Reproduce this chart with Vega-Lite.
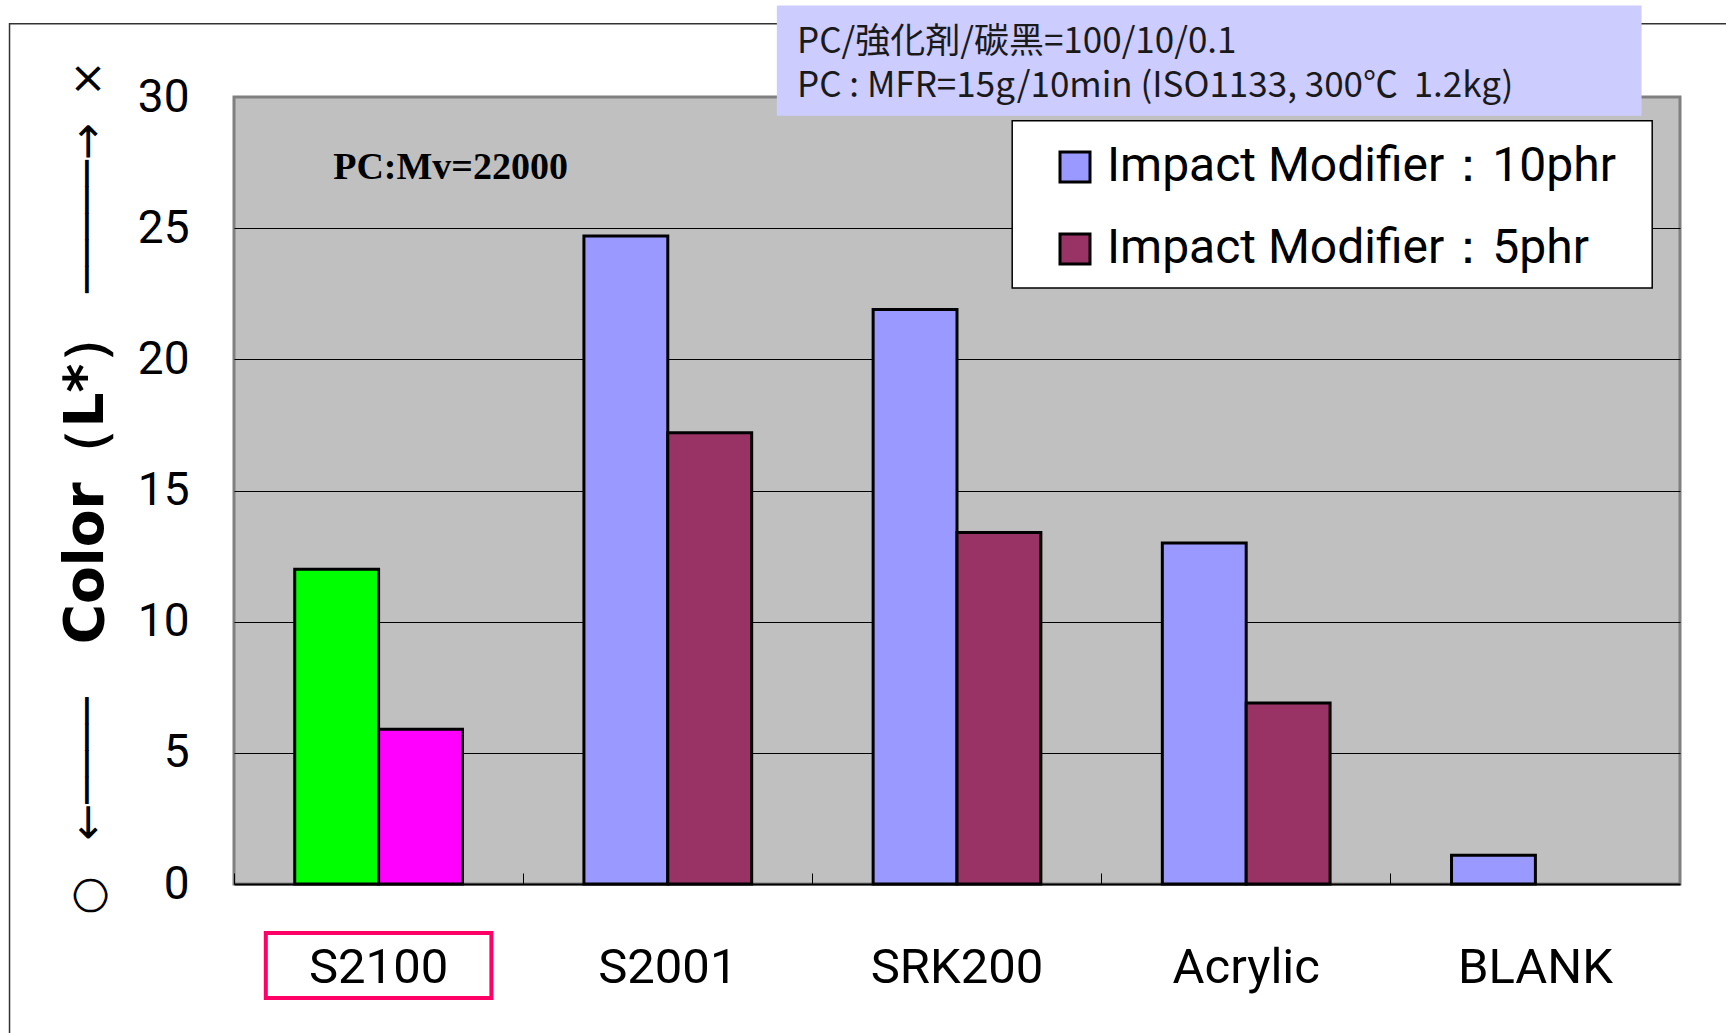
{
  "$schema": "https://vega.github.io/schema/vega-lite/v6.json",
  "width": 1446,
  "height": 787,
  "autosize": {"type": "none"},
  "padding": {"left": 234, "top": 97, "right": 46, "bottom": 149},
  "background": "white",
  "title": {
    "text": "Color（L*）",
    "orient": "left",
    "anchor": "middle",
    "frame": "group",
    "font": "DejaVu Sans",
    "fontWeight": "bold",
    "fontSize": 55,
    "color": "black",
    "offset": 0,
    "dy": 106,
    "dx": 14
  },
  "config": {
    "view": {"fill": "#c0c0c0", "stroke": "#808080", "strokeWidth": 3}
  },
  "layer": [
    {
      "data": {
        "values": [
          {"category": "S2100", "group": "Impact Modifier：10phr", "value": 12.0},
          {"category": "S2100", "group": "Impact Modifier：5phr", "value": 5.9},
          {"category": "S2001", "group": "Impact Modifier：10phr", "value": 24.7},
          {"category": "S2001", "group": "Impact Modifier：5phr", "value": 17.2},
          {"category": "SRK200", "group": "Impact Modifier：10phr", "value": 21.9},
          {"category": "SRK200", "group": "Impact Modifier：5phr", "value": 13.4},
          {"category": "Acrylic", "group": "Impact Modifier：10phr", "value": 13.0},
          {"category": "Acrylic", "group": "Impact Modifier：5phr", "value": 6.9},
          {"category": "BLANK", "group": "Impact Modifier：10phr", "value": 1.1}
        ]
      },
      "mark": {"type": "bar", "stroke": "black", "strokeWidth": 3},
      "encoding": {
        "x": {
          "field": "category",
          "type": "nominal",
          "title": null,
          "scale": {"domain": ["S2100", "S2001", "SRK200", "Acrylic", "BLANK"], "paddingInner": 0, "paddingOuter": 0},
          "axis": {
            "labelFont": "Roboto",
            "labelFontSize": 49,
            "labelColor": "black",
            "labelAngle": 0,
            "labelLimit": 0,
            "labelPadding": 70,
            "ticks": true,
            "tickSize": -11,
            "tickColor": "black",
            "tickWidth": 1,
            "bandPosition": 0,
            "domainColor": "black",
            "domainWidth": 2,
            "grid": false
          }
        },
        "xOffset": {
          "field": "group",
          "type": "nominal",
          "scale": {"domain": ["Impact Modifier：10phr", "Impact Modifier：5phr"], "paddingInner": 0, "paddingOuter": 0.724}
        },
        "y": {
          "field": "value",
          "type": "quantitative",
          "title": "\u25cb\u2002\u00a0\u2190\u2500\u2500\u2500\u2500\u2003\u2003\u2003\u2003\u2003\u2003\u2003\u2003\u2003\u2009\u2500\u2500\u2500\u2500\u2500\u2192\u2002\u200a\u00d7",
          "scale": {"domain": [0, 30], "nice": false, "zero": true},
          "axis": {
            "values": [0, 5, 10, 15, 20, 25, 30],
            "labelFont": "Roboto",
            "labelFontSize": 46,
            "labelColor": "black",
            "labelPadding": 45,
            "ticks": false,
            "domain": false,
            "grid": true,
            "gridColor": "black",
            "gridWidth": 1,
            "gridOpacity": {"condition": {"test": "datum.value === 30 || datum.value === 0", "value": 0}, "value": 1},
            "titleFont": "DejaVu Sans",
            "titleFontSize": 44,
            "titleFontWeight": "normal",
            "titleColor": "black",
            "titleAngle": 270,
            "titleX": -146,
            "titleY": 390,
            "titleAlign": "center",
            "titleBaseline": "middle"
          }
        },
        "color": {
          "condition": [
            {"test": "datum.category === 'S2100' && datum.group === 'Impact Modifier：10phr'", "value": "#00ff00"},
            {"test": "datum.category === 'S2100' && datum.group === 'Impact Modifier：5phr'", "value": "#ff00ff"}
          ],
          "field": "group",
          "type": "nominal",
          "scale": {"domain": ["Impact Modifier：10phr", "Impact Modifier：5phr"], "range": ["#9999ff", "#993366"]},
          "legend": {
            "title": null,
            "orient": "none",
            "legendX": 817,
            "legendY": 46,
            "direction": "vertical",
            "padding": 0,
            "symbolType": "square",
            "symbolSize": 900,
            "symbolStrokeColor": "black",
            "symbolStrokeWidth": 3,
            "symbolOpacity": 1,
            "labelFont": "Roboto",
            "labelFontSize": 48,
            "labelColor": "black",
            "labelOffset": 8,
            "rowPadding": 34,
            "labelLimit": 0
          }
        }
      }
    },
    {
      "data": {"values": [{"category": "S2100", "value": 32.79, "value2": -9}]},
      "mark": {"type": "bar", "fill": "white", "fillOpacity": 0, "stroke": "#333333", "strokeWidth": 1.5, "width": {"band": 6.19}, "xOffset": 526},
      "encoding": {
        "x": {"field": "category", "type": "nominal", "title": null, "scale": {"domain": ["S2100", "S2001", "SRK200", "Acrylic", "BLANK"], "paddingInner": 0, "paddingOuter": 0}},
        "y": {"field": "value", "type": "quantitative", "title": "\u25cb\u2002\u00a0\u2190\u2500\u2500\u2500\u2500\u2003\u2003\u2003\u2003\u2003\u2003\u2003\u2003\u2003\u2009\u2500\u2500\u2500\u2500\u2500\u2192\u2002\u200a\u00d7", "scale": {"domain": [0, 30], "nice": false, "zero": true}},
        "y2": {"field": "value2"}
      }
    },
    {
      "data": {"values": [{"category": "Acrylic", "value": 29.09, "value2": 22.72}]},
      "mark": {"type": "bar", "fill": "white", "stroke": "black", "strokeWidth": 1.5, "width": {"band": 2.213}, "xOffset": 86},
      "encoding": {
        "x": {"field": "category", "type": "nominal", "title": null, "scale": {"domain": ["S2100", "S2001", "SRK200", "Acrylic", "BLANK"], "paddingInner": 0, "paddingOuter": 0}},
        "y": {"field": "value", "type": "quantitative", "title": "\u25cb\u2002\u00a0\u2190\u2500\u2500\u2500\u2500\u2003\u2003\u2003\u2003\u2003\u2003\u2003\u2003\u2003\u2009\u2500\u2500\u2500\u2500\u2500\u2192\u2002\u200a\u00d7", "scale": {"domain": [0, 30], "nice": false, "zero": true}},
        "y2": {"field": "value2"}
      }
    },
    {
      "data": {"values": [{"category": "Acrylic", "value": 33.49, "value2": 29.29}]},
      "mark": {"type": "bar", "fill": "#ccccff", "width": {"band": 2.99}, "xOffset": -37},
      "encoding": {
        "x": {"field": "category", "type": "nominal", "title": null, "scale": {"domain": ["S2100", "S2001", "SRK200", "Acrylic", "BLANK"], "paddingInner": 0, "paddingOuter": 0}},
        "y": {"field": "value", "type": "quantitative", "title": "\u25cb\u2002\u00a0\u2190\u2500\u2500\u2500\u2500\u2003\u2003\u2003\u2003\u2003\u2003\u2003\u2003\u2003\u2009\u2500\u2500\u2500\u2500\u2500\u2192\u2002\u200a\u00d7", "scale": {"domain": [0, 30], "nice": false, "zero": true}},
        "y2": {"field": "value2"}
      }
    },
    {
      "data": {
        "values": [
          {"category": "SRK200", "value": 32.1, "note": "PC/強化剤/碳黑=100/10/0.1"},
          {"category": "SRK200", "value": 30.43, "note": "PC : MFR=15g/10min (ISO1133, 300℃\u00a0 1.2kg)"}
        ]
      },
      "mark": {"type": "text", "align": "left", "baseline": "middle", "dx": -160, "font": "Noto Sans CJK JP", "fontSize": 35, "color": "#1a1a1a"},
      "encoding": {
        "x": {"field": "category", "type": "nominal", "title": null, "scale": {"domain": ["S2100", "S2001", "SRK200", "Acrylic", "BLANK"], "paddingInner": 0, "paddingOuter": 0}},
        "y": {"field": "value", "type": "quantitative", "title": "\u25cb\u2002\u00a0\u2190\u2500\u2500\u2500\u2500\u2003\u2003\u2003\u2003\u2003\u2003\u2003\u2003\u2003\u2009\u2500\u2500\u2500\u2500\u2500\u2192\u2002\u200a\u00d7", "scale": {"domain": [0, 30], "nice": false, "zero": true}},
        "text": {"field": "note"}
      }
    },
    {
      "data": {"values": [{"category": "S2100", "value": 27.3, "note": "PC:Mv=22000"}]},
      "mark": {"type": "text", "align": "center", "baseline": "middle", "dx": 72, "font": "Liberation Serif", "fontWeight": "bold", "fontSize": 38, "color": "black"},
      "encoding": {
        "x": {"field": "category", "type": "nominal", "title": null, "scale": {"domain": ["S2100", "S2001", "SRK200", "Acrylic", "BLANK"], "paddingInner": 0, "paddingOuter": 0}},
        "y": {"field": "value", "type": "quantitative", "title": "\u25cb\u2002\u00a0\u2190\u2500\u2500\u2500\u2500\u2003\u2003\u2003\u2003\u2003\u2003\u2003\u2003\u2003\u2009\u2500\u2500\u2500\u2500\u2500\u2192\u2002\u200a\u00d7", "scale": {"domain": [0, 30], "nice": false, "zero": true}},
        "text": {"field": "note"}
      }
    },
    {
      "data": {"values": [{"category": "S2100", "value": -1.87, "value2": -4.35}]},
      "mark": {"type": "bar", "fill": "white", "fillOpacity": 0, "stroke": "#ff0066", "strokeWidth": 4, "width": {"band": 0.78}},
      "encoding": {
        "x": {"field": "category", "type": "nominal", "title": null, "scale": {"domain": ["S2100", "S2001", "SRK200", "Acrylic", "BLANK"], "paddingInner": 0, "paddingOuter": 0}},
        "y": {"field": "value", "type": "quantitative", "title": "\u25cb\u2002\u00a0\u2190\u2500\u2500\u2500\u2500\u2003\u2003\u2003\u2003\u2003\u2003\u2003\u2003\u2003\u2009\u2500\u2500\u2500\u2500\u2500\u2192\u2002\u200a\u00d7", "scale": {"domain": [0, 30], "nice": false, "zero": true}},
        "y2": {"field": "value2"}
      }
    }
  ]
}
